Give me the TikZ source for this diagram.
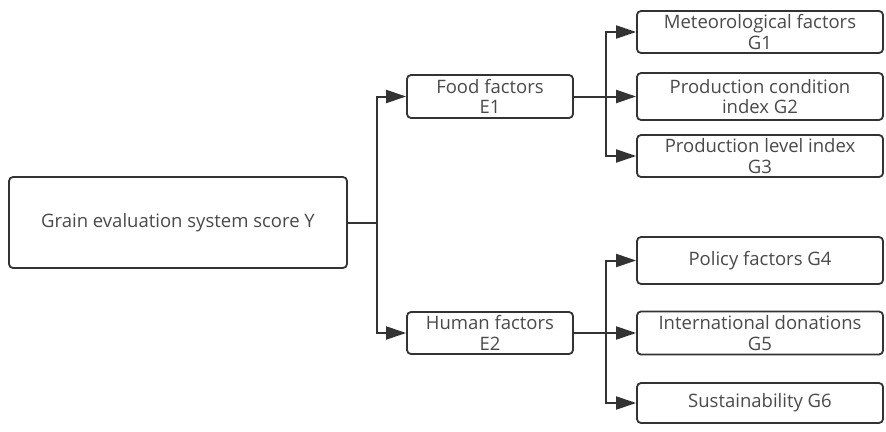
\documentclass[tikz,border=0pt]{standalone}
\usepackage{fontspec}
\setmainfont{Open Sans}
\usetikzlibrary{arrows.meta}
\definecolor{boxline}{HTML}{333333}
\definecolor{boxtext}{HTML}{4A4A4A}
\begin{document}
\begin{tikzpicture}[x=1pt,y=-1pt,>={Triangle[length=20pt,width=13pt]},
    font=\fontsize{18.5}{20.5}\selectfont,
    box/.style={draw=boxline,line width=1.8pt,rounded corners=4pt,fill=white,
        text=boxtext,align=center,inner sep=0pt},
    link/.style={->,draw=boxline,line width=2pt}]
    \useasboundingbox[fill=white] (0,0) rectangle (886,431);

    \node[box,minimum width=338,minimum height=91] (root) at (178,222.5)
        {Grain evaluation system score Y};
    \node[box,minimum width=166,minimum height=43] (e1) at (490,96.5)
        {Food factors\\E1};
    \node[box,minimum width=166,minimum height=42] (e2) at (490,333)
        {Human factors\\E2};

    \node[box,minimum width=246,minimum height=42] (g1) at (760,32)
        {Meteorological factors\\G1};
    \node[box,minimum width=246,minimum height=47] (g2) at (760,96.5)
        {Production condition\\index G2};
    \node[box,minimum width=246,minimum height=42] (g3) at (760,156)
        {Production level index\\G3};
    \node[box,minimum width=246,minimum height=47] (g4) at (760,260.5)
        {Policy factors G4};
    \node[box,minimum width=246,minimum height=43] (g5) at (760,333)
        {International donations\\G5};
    \node[box,minimum width=246,minimum height=40] (g6) at (760,403)
        {Sustainability G6};

    \coordinate (t0) at (377,222.5);
    \coordinate (t1) at (606,96.5);
    \coordinate (t2) at (606,333);

    \draw[link] (root.east) -- (t0) |- (e1.west);
    \draw[link] (t0) |- (e2.west);

    \draw[link] (e1.east) -- (g2.west);
    \draw[link] (t1) |- (g1.west);
    \draw[link] (t1) |- (g3.west);

    \draw[link] (e2.east) -- (g5.west);
    \draw[link] (t2) |- (g4.west);
    \draw[link] (t2) |- (g6.west);
\end{tikzpicture}
\end{document}
